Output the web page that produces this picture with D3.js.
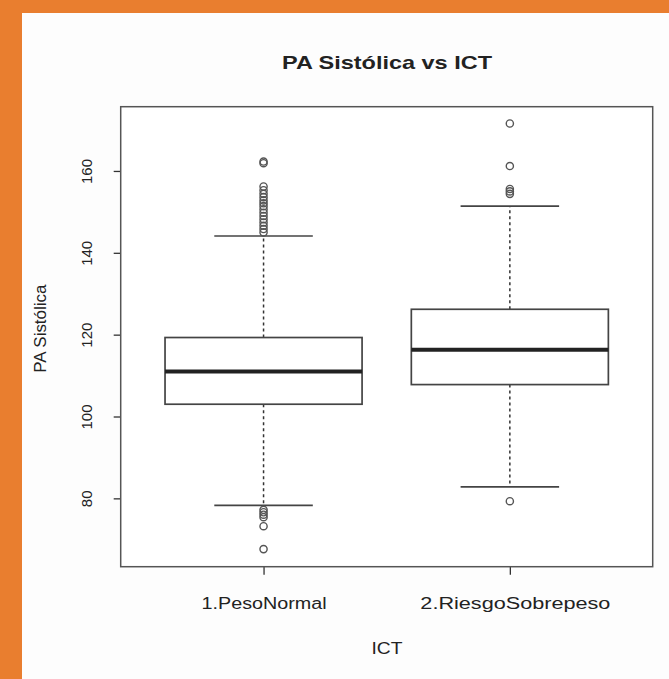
<!DOCTYPE html>
<html>
<head>
<meta charset="utf-8">
<script src="https://cdn.jsdelivr.net/npm/d3@7"></script>
<style>
  html, body { margin: 0; padding: 0; background: #fdfdfd; }
  svg { display: block; }
  text { font-family: "Liberation Sans", Arial, sans-serif; fill: #222; }
</style>
</head>
<body>
<svg id="chart" width="669" height="679"></svg>
<script>
// ---- data ----
const categories = ["1.PesoNormal", "2.RiesgoSobrepeso"];
const whiskerLow  = [78.3, 82.8];
const q1          = [103.0, 107.8];
const median      = [111.0, 116.3];
const q3          = [119.3, 126.2];
const whiskerHigh = [144.1, 151.4];
const outliersPesoNormal = [162.3, 161.9, 156.2, 155.3, 154.4, 153.6, 152.8, 152.1, 151.4, 150.6, 149.8, 149.0, 148.2, 147.4, 146.6, 145.8, 145.0, 77.2, 76.6, 76.0, 75.4, 73.2, 67.6];
const outliersRiesgoSobrepeso = [171.6, 161.2, 155.6, 155.0, 154.4, 79.3];
const outliers = [outliersPesoNormal, outliersRiesgoSobrepeso];
const yTicks = [80, 100, 120, 140, 160];
const title = "PA Sistólica vs ICT";
const xTitle = "ICT";
const yTitle = "PA Sistólica";

// ---- layout ----
const svg = d3.select("#chart");
const W = 669, H = 679;
const plot = { left: 120.7, right: 652.7, top: 106.7, bottom: 566.7 };
const ink = "#333";

// orange frame
svg.append("rect").attr("x", 0).attr("y", 0).attr("width", W).attr("height", H).attr("fill", "#E97E2F");
svg.append("rect").attr("x", 22).attr("y", 13).attr("width", W - 22).attr("height", H - 13).attr("fill", "#fdfdfd");

const x = d3.scalePoint().domain(categories).range([plot.left, plot.right]).padding(0.58);
const step = x.step();
const boxW = step * 0.8;
const capW = boxW / 2;
const y = d3.scaleLinear().domain([63.3, 175.7]).range([plot.bottom, plot.top]);

// title
svg.append("text")
  .attr("x", 387).attr("y", 69)
  .attr("text-anchor", "middle")
  .attr("font-size", 19).attr("font-weight", "bold")
  .attr("textLength", 210).attr("lengthAdjust", "spacingAndGlyphs")
  .text(title);

// y axis
const yAxis = d3.axisLeft(y).tickValues(yTicks).tickSize(7).tickPadding(0).tickFormat(d3.format("d"));
const gy = svg.append("g").attr("transform", `translate(${plot.left},0)`).call(yAxis);
gy.select(".domain").remove();
gy.selectAll(".tick line").attr("stroke", ink).attr("stroke-width", 1.3);
gy.selectAll(".tick text")
  .attr("font-size", 15).attr("fill", "#333")
  .attr("text-anchor", "middle")
  .attr("x", 0).attr("dy", 0)
  .attr("transform", "translate(-34,0) rotate(-90)")
  .attr("dominant-baseline", "central");

// x axis
const xAxis = d3.axisBottom(x).tickSize(8).tickPadding(0);
const gx = svg.append("g").attr("transform", `translate(0,${plot.bottom})`).call(xAxis);
gx.select(".domain").remove();
gx.selectAll(".tick line").attr("stroke", ink).attr("stroke-width", 1.3);
const labelWidths = [125, 190];
gx.selectAll(".tick text")
  .attr("font-size", 16).attr("fill", "#333")
  .attr("y", 42).attr("dy", 0)
  .attr("dx", (d, i) => i === 1 ? 5 : 0)
  .attr("textLength", (d, i) => labelWidths[i])
  .attr("lengthAdjust", "spacingAndGlyphs");

// axis titles
svg.append("text")
  .attr("x", 387).attr("y", 654)
  .attr("text-anchor", "middle").attr("font-size", 16).attr("fill", "#333")
  .attr("textLength", 31).attr("lengthAdjust", "spacingAndGlyphs")
  .text(xTitle);
svg.append("text")
  .attr("transform", `translate(46,${(plot.top + plot.bottom) / 2 - 8}) rotate(-90)`)
  .attr("text-anchor", "middle").attr("font-size", 16).attr("fill", "#333")
  .attr("textLength", 88).attr("lengthAdjust", "spacingAndGlyphs")
  .text(yTitle);

// plot frame
svg.append("rect")
  .attr("x", plot.left).attr("y", plot.top)
  .attr("width", plot.right - plot.left).attr("height", plot.bottom - plot.top)
  .attr("fill", "#fff").attr("stroke", "#555").attr("stroke-width", 1.5);

// boxes
const g = svg.append("g");
categories.forEach((c, i) => {
  const cx = x(c);
  // whiskers (dashed)
  g.append("line").attr("x1", cx).attr("x2", cx).attr("y1", y(q3[i])).attr("y2", y(whiskerHigh[i]))
    .attr("stroke", ink).attr("stroke-width", 1.5).attr("stroke-dasharray", "3,3");
  g.append("line").attr("x1", cx).attr("x2", cx).attr("y1", y(q1[i])).attr("y2", y(whiskerLow[i]))
    .attr("stroke", ink).attr("stroke-width", 1.5).attr("stroke-dasharray", "3,3");
  // caps
  [whiskerHigh[i], whiskerLow[i]].forEach(v => {
    g.append("line").attr("x1", cx - capW / 2).attr("x2", cx + capW / 2).attr("y1", y(v)).attr("y2", y(v))
      .attr("stroke", "#444").attr("stroke-width", 1.7);
  });
  // box
  g.append("rect")
    .attr("x", cx - boxW / 2).attr("width", boxW)
    .attr("y", y(q3[i])).attr("height", y(q1[i]) - y(q3[i]))
    .attr("fill", "#fff").attr("stroke", "#444").attr("stroke-width", 1.7);
  // median
  g.append("line").attr("x1", cx - boxW / 2).attr("x2", cx + boxW / 2)
    .attr("y1", y(median[i])).attr("y2", y(median[i]))
    .attr("stroke", "#222").attr("stroke-width", 4);
  // outliers
  g.selectAll(null).data(outliers[i]).enter().append("circle")
    .attr("cx", cx).attr("cy", d => y(d)).attr("r", 3.6)
    .attr("fill", "none").attr("stroke", "#555").attr("stroke-width", 1.4);
});
</script>
</body>
</html>
